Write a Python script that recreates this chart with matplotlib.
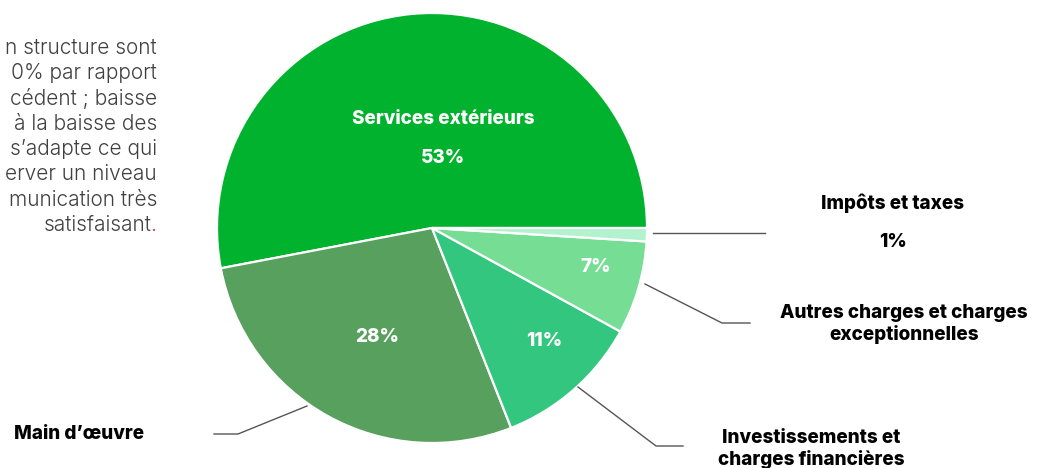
import matplotlib
matplotlib.use("Agg")
import matplotlib.pyplot as plt
import numpy as np

# ---- data ----
categories = ["Services extérieurs", "Main d\u2019œuvre", "Investissements et\ncharges financières",
              "Autres charges et charges\nexceptionnelles", "Impôts et taxes"]
shares = [53, 28, 11, 7, 1]
pct_labels = ["53%", "28%", "11%", "7%", "1%"]
colors = ["#00B22D", "#58A05D", "#33C67E", "#76DD95", "#B2F2CF"]

paragraph = ["n structure sont", "0% par rapport", "cédent ; baisse", "à la baisse des",
             "s\u2019adapte ce qui", "erver un niveau", "munication très", "satisfaisant"]

W, H = 1037, 468
fig = plt.figure(figsize=(W / 100, H / 100), dpi=100)
ax = fig.add_axes([0, 0, 1, 1])

def P(x, y):
    """pixel coords (top-left origin) -> data coords"""
    return x, H - y

cx, cy = P(432, 228)
R = 215
ax.pie(shares, colors=colors, startangle=0, counterclock=True, radius=R, center=(cx, cy),
       wedgeprops=dict(edgecolor="white", linewidth=1.6), frame=True)
ax.set_xlim(0, W)
ax.set_ylim(0, H)
ax.set_aspect("equal")
ax.axis("off")

bold = dict(family="Inter", fontweight=800, fontsize=13.6, ha="center", va="center")

# labels inside slices
ax.text(*P(443, 119), categories[0], color="white", **bold)
ax.text(*P(443, 158), pct_labels[0], color="white", **bold)
ax.text(*P(377, 337), pct_labels[1], color="white", **bold)
ax.text(*P(544, 341), pct_labels[2], color="white", **bold)
ax.text(*P(596, 267), pct_labels[3], color="white", **bold)

# outside labels
ax.text(*P(893, 203), categories[4], color="black", **bold)
ax.text(*P(893, 242), pct_labels[4], color="black", **bold)
ax.text(*P(904, 324), categories[3], color="black", linespacing=1.15, **bold)
ax.text(*P(811, 449), categories[2], color="black", linespacing=1.15, **bold)
ax.text(*P(79, 434), categories[1], color="black", **bold)

# leader lines
lc = dict(color="#555555", linewidth=1.0)
def leader(pts):
    xs, ys = zip(*[P(*p) for p in pts])
    ax.plot(xs, ys, **lc)

leader([(653, 233), (765, 233)])
leader([(645, 284), (722, 323), (750, 323)])
leader([(578, 387), (656, 446), (683, 446)])
leader([(307, 406), (238, 434), (214, 434)])

# partial paragraph on the left
para = dict(color="#404040", fontsize=15, va="center", family="Inter", fontweight=300)
for i, line in enumerate(paragraph):
    xr = 157 if i < len(paragraph) - 1 else 152
    ax.text(*P(xr, 48 + i * 25.3), line, ha="right", **para)
ax.text(*P(150.5, 48 + 7 * 25.3), ".", ha="left", **{**para, "color": "#e03030"})

fig.savefig("out.png", dpi=100)
